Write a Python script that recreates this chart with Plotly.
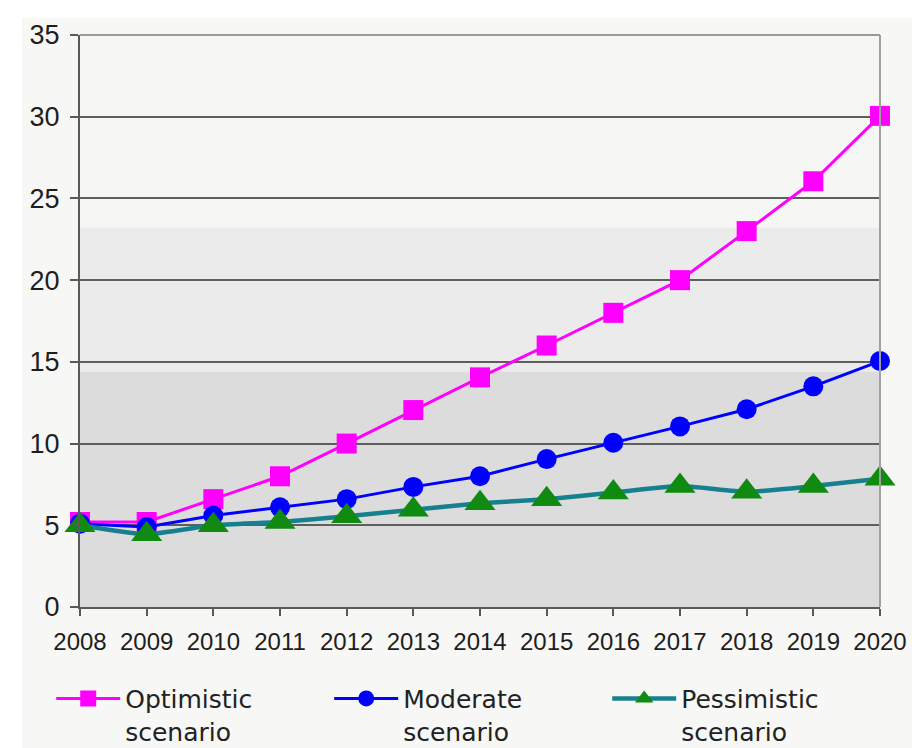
import plotly.graph_objects as go

years = [2008, 2009, 2010, 2011, 2012, 2013, 2014, 2015, 2016, 2017, 2018, 2019, 2020]
optimistic = [5.2, 5.2, 6.6, 8.0, 10.0, 12.05, 14.05, 16.0, 18.0, 20.0, 23.0, 26.05, 30.05]
moderate = [5.1, 4.9, 5.6, 6.1, 6.6, 7.35, 8.0, 9.05, 10.05, 11.05, 12.1, 13.5, 15.05]
pessimistic = [5.0, 4.45, 5.0, 5.2, 5.55, 5.95, 6.35, 6.6, 7.0, 7.4, 7.05, 7.4, 7.85]
y_ticks = [0, 5, 10, 15, 20, 25, 30, 35]
names = ["Optimistic<br>scenario", "Moderate<br>scenario", "Pessimistic<br>scenario"]

fig = go.Figure()
fig.add_trace(go.Scatter(x=years, y=optimistic, name=names[0], mode="lines+markers",
                         line=dict(color="#ff00ff", width=3),
                         marker=dict(symbol="square", size=20, color="#ff00ff"),
                         cliponaxis=False))
fig.add_trace(go.Scatter(x=years, y=moderate, name=names[1], mode="lines+markers",
                         line=dict(color="#0000ff", width=3),
                         marker=dict(symbol="circle", size=20, color="#0000ff"),
                         cliponaxis=False))
fig.add_trace(go.Scatter(x=years, y=pessimistic, name=names[2], mode="lines+markers",
                         line=dict(color="#17808e", width=4.5, shape="spline", smoothing=0.5),
                         marker=dict(symbol="triangle-up", size=27, color="#108a10"),
                         cliponaxis=False))

shapes = [
    # outer light panel (white strip at top and left)
    dict(type="rect", xref="paper", yref="paper", x0=-58/800, x1=32/800 + 1, y0=-141/572, y1=1 + 17/572,
         fillcolor="#f7f7f6", line=dict(width=0), layer="below"),
    # stepped background bands
    dict(type="rect", xref="paper", yref="y", x0=0, x1=1, y0=23.2, y1=35,
         fillcolor="#f6f6f5", line=dict(width=0), layer="below"),
    dict(type="rect", xref="paper", yref="y", x0=0, x1=1, y0=14.4, y1=23.2,
         fillcolor="#ebebeb", line=dict(width=0), layer="below"),
    dict(type="rect", xref="paper", yref="y", x0=0, x1=1, y0=0, y1=14.4,
         fillcolor="#dcdcdc", line=dict(width=0), layer="below"),
    # top and right frame
    dict(type="line", xref="paper", yref="paper", x0=0, x1=1, y0=1, y1=1,
         line=dict(color="#9a9a9a", width=2)),
    dict(type="line", xref="paper", yref="paper", x0=1, x1=1, y0=0, y1=1,
         line=dict(color="#a0a0a0", width=2)),
]

fig.update_layout(
    width=912, height=748,
    margin=dict(l=80, r=32, t=35, b=141, autoexpand=False),
    paper_bgcolor="#ffffff",
    plot_bgcolor="#f6f6f5",
    shapes=shapes,
    showlegend=True,
    legend=dict(orientation="h", x=-0.036, xanchor="left", y=-0.12, yanchor="top",
                font=dict(family="DejaVu Sans", size=25, color="#222222"),
                entrywidth=199, entrywidthmode="pixels", valign="top",
                itemwidth=64, bgcolor="rgba(0,0,0,0)", tracegroupgap=0),
    xaxis=dict(range=[2008, 2020], tickvals=years, ticktext=[str(y) for y in years],
               showgrid=False, zeroline=False, showline=True, linecolor="#5a5a5a", linewidth=2,
               ticks="outside", ticklen=7, tickwidth=2, tickcolor="#5a5a5a",
               tickfont=dict(family="Liberation Sans", size=24, color="#1e1e1e"),
               ticklabelstandoff=5, fixedrange=True),
    yaxis=dict(range=[0, 35], tickvals=y_ticks, showgrid=True, gridcolor="#5e5e5e", gridwidth=2,
               zeroline=False, showline=True, linecolor="#5a5a5a", linewidth=2,
               ticks="outside", ticklen=8, tickwidth=2, tickcolor="#5a5a5a",
               tickfont=dict(family="Liberation Sans", size=27, color="#1e1e1e"),
               ticklabelstandoff=5, fixedrange=True),
)

fig.write_html("out.html")
